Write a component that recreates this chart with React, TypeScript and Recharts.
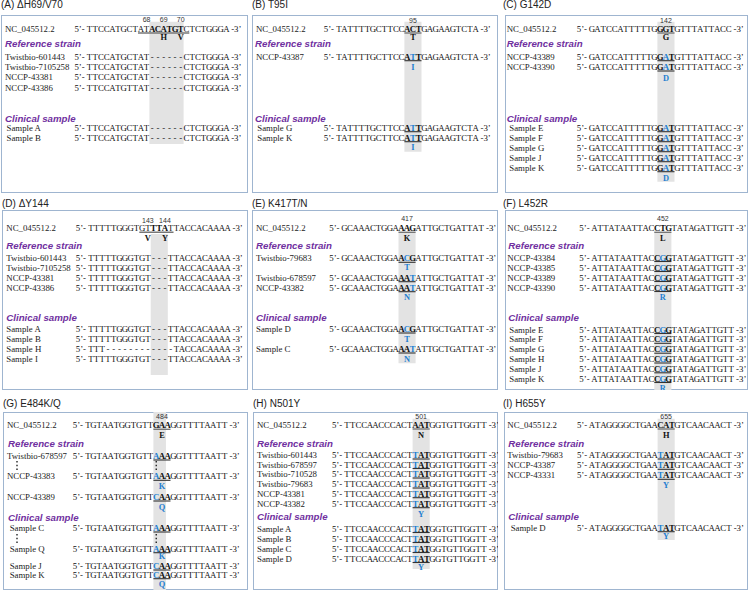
import React from 'react';
import { ReferenceArea, ReferenceLine, Scatter, ScatterChart, XAxis, YAxis } from 'recharts';

// one nucleotide column, px
const P = 5.7;
const REF_NAME = 'NC_045512.2';
const STRAIN_HEAD = 'Reference strain';
const SAMPLE_HEAD = 'Clinical sample';

// (A) ΔH69/V70
const aRef = 'TTCCATGCTATACATGTCTCTGGGA';
const aNums = ['68', '69', '70'];
const aRefAA = ['', 'H', 'V'];
const aStrains = ['Twistbio-601443', 'Twistbio-7105258', 'NCCP-43381', 'NCCP-43386'];
const aStrainSeqs = ['TTCCATGCTAT------CTCTGGGA', 'TTCCATGCTAT------CTCTGGGA', 'TTCCATGCTAT------CTCTGGGA', 'TTCCATGTTAT------CTCTGGGA'];
const aSamples = ['Sample A', 'Sample B'];
const aSampleSeqs = ['TTCCATGCTAT------CTCTGGGA', 'TTCCATGCTAT------CTCTGGGA'];
const aMutAA: string[] = [];

// (B) T95I
const bRef = 'TATTTTGCTTCCACTGAGAAGTCTA';
const bNums = ['95'];
const bRefAA = ['T'];
const bStrains = ['NCCP-43387'];
const bStrainSeqs = ['TATTTTGCTTCCATTGAGAAGTCTA'];
const bSamples = ['Sample G', 'Sample K'];
const bSampleSeqs = ['TATTTTGCTTCCATTGAGAAGTCTA', 'TATTTTGCTTCCATTGAGAAGTCTA'];
const bMutAA = ['I', 'I'];

// (C) G142D
const cRef = 'GATCCATTTTTGGGTGTTTATTACC';
const cNums = ['142'];
const cRefAA = ['G'];
const cStrains = ['NCCP-43389', 'NCCP-43390'];
const cStrainSeqs = ['GATCCATTTTTGGATGTTTATTACC', 'GATCCATTTTTGGATGTTTATTACC'];
const cSamples = ['Sample E', 'Sample F', 'Sample G', 'Sample J', 'Sample K'];
const cSampleSeqs = ['GATCCATTTTTGGATGTTTATTACC', 'GATCCATTTTTGGATGTTTATTACC', 'GATCCATTTTTGGATGTTTATTACC', 'GATCCATTTTTGGATGTTTATTACC', 'GATCCATTTTTGGATGTTTATTACC'];
const cMutAA = ['D', 'D'];

// (D) ΔY144
const dRef = 'TTTTTGGGTGTTTATTACCACAAAA';
const dNums = ['143', '144'];
const dRefAA = ['V', 'Y'];
const dStrains = ['Twistbio-601443', 'Twistbio-7105258', 'NCCP-43381', 'NCCP-43386'];
const dStrainSeqs = ['TTTTTGGGTGT---TTACCACAAAA', 'TTTTTGGGTGT---TTACCACAAAA', 'TTTTTGGGTGT---TTACCACAAAA', 'TTTTTGGGTGT---TTACCACAAAA'];
const dSamples = ['Sample A', 'Sample B', 'Sample H', 'Sample I'];
const dSampleSeqs = ['TTTTTGGGTGT---TTACCACAAAA', 'TTTTTGGGTGT---TTACCACAAAA', 'TTT------------TACCACAAAA', 'TTTTTGGGTGT---TTACCACAAAA'];
const dMutAA: string[] = [];

// (E) K417T/N
const eRef = 'GCAAACTGGAAAGATTGCTGATTAT';
const eNums = ['417'];
const eRefAA = ['K'];
const eStrains = ['Twistbio-79683', 'Twistbio-678597', 'NCCP-43382'];
const eStrainSeqs = ['GCAAACTGGAACGATTGCTGATTAT', 'GCAAACTGGAAATATTGCTGATTAT', 'GCAAACTGGAAATATTGCTGATTAT'];
const eSamples = ['Sample D', 'Sample C'];
const eSampleSeqs = ['GCAAACTGGAACGATTGCTGATTAT', 'GCAAACTGGAAATATTGCTGATTAT'];
const eMutAA = ['T', 'N', 'T', 'N'];

// (F) L452R
const fRef = 'ATTATAATTACCTGTATAGATTGTT';
const fNums = ['452'];
const fRefAA = ['L'];
const fStrains = ['NCCP-43384', 'NCCP-43385', 'NCCP-43389', 'NCCP-43390'];
const fStrainSeqs = ['ATTATAATTACCGGTATAGATTGTT', 'ATTATAATTACCGGTATAGATTGTT', 'ATTATAATTACCGGTATAGATTGTT', 'ATTATAATTACCGGTATAGATTGTT'];
const fSamples = ['Sample E', 'Sample F', 'Sample G', 'Sample H', 'Sample J', 'Sample K'];
const fSampleSeqs = ['ATTATAATTACCGGTATAGATTGTT', 'ATTATAATTACCGGTATAGATTGTT', 'ATTATAATTACCGGTATAGATTGTT', 'ATTATAATTACCGGTATAGATTGTT', 'ATTATAATTACCGGTATAGATTGTT', 'ATTATAATTACCGGTATAGATTGTT'];
const fMutAA = ['R', 'R'];

// (G) E484K/Q
const gRef = 'TGTAATGGTGTTGAAGGTTTTAATT';
const gNums = ['484'];
const gRefAA = ['E'];
const gStrains = ['Twistbio-678597', 'NCCP-43383', 'NCCP-43389'];
const gStrainSeqs = ['TGTAATGGTGTTAAAGGTTTTAATT', 'TGTAATGGTGTTAAAGGTTTTAATT', 'TGTAATGGTGTTCAAGGTTTTAATT'];
const gSamples = ['Sample C', 'Sample Q', 'Sample J', 'Sample K'];
const gSampleSeqs = ['TGTAATGGTGTTAAAGGTTTTAATT', 'TGTAATGGTGTTAAAGGTTTTAATT', 'TGTAATGGTGTTCAAGGTTTTAATT', 'TGTAATGGTGTTCAAGGTTTTAATT'];
const gMutAA = ['K', 'Q', 'K', 'Q'];

// (H) N501Y
const hRef = 'TTCCAACCCACTAATGGTGTTGGTT';
const hNums = ['501'];
const hRefAA = ['N'];
const hStrains = ['Twistbio-601443', 'Twistbio-678597', 'Twistbio-710528', 'Twistbio-79683', 'NCCP-43381', 'NCCP-43382'];
const hStrainSeqs = ['TTCCAACCCACTTATGGTGTTGGTT', 'TTCCAACCCACTTATGGTGTTGGTT', 'TTCCAACCCACTTATGGTGTTGGTT', 'TTCCAACCCACTTATGGTGTTGGTT', 'TTCCAACCCACTTATGGTGTTGGTT', 'TTCCAACCCACTTATGGTGTTGGTT'];
const hSamples = ['Sample A', 'Sample B', 'Sample C', 'Sample D'];
const hSampleSeqs = ['TTCCAACCCACTTATGGTGTTGGTT', 'TTCCAACCCACTTATGGTGTTGGTT', 'TTCCAACCCACTTATGGTGTTGGTT', 'TTCCAACCCACTTATGGTGTTGGTT'];
const hMutAA = ['Y', 'Y'];

// (I) H655Y
const iRef = 'ATAGGGGCTGAACATGTCAACAACT';
const iNums = ['655'];
const iRefAA = ['H'];
const iStrains = ['Twistbio-79683', 'NCCP-43387', 'NCCP-43331'];
const iStrainSeqs = ['ATAGGGGCTGAATATGTCAACAACT', 'ATAGGGGCTGAATATGTCAACAACT', 'ATAGGGGCTGAATATGTCAACAACT'];
const iSamples = ['Sample D'];
const iSampleSeqs = ['ATAGGGGCTGAATATGTCAACAACT'];
const iMutAA = ['Y', 'Y'];

type Range = [number, number];

type Layout = {
  titleX: number;
  titleTop: number;
  left: number;
  top: number;
  w: number;
  h: number;
  s: number;
  labelX: number;
  sampleX: number;
  headX: number;
  numY: number;
  refY: number;
  aaY: number;
  strainHeadY: number;
  sampleHeadY: number;
  centers: number[];
  codon: Range;
  refUnder: Range;
  refBold: Range;
  band: [number, number, number, number];
  strainY: number[];
  sampleY: number[];
  mutAAY: number[];
  dots?: { px: number; col: number; spans: Range[] };
};

type PanelData = {
  title: string;
  ref: string;
  nums: string[];
  refAA: string[];
  strains: string[];
  strainSeqs: string[];
  samples: string[];
  sampleSeqs: string[];
  mutAA: string[];
};

const panels: { d: PanelData; l: Layout }[] = [
  {
    d: { title: '(A) \u0394H69/V70', ref: aRef, nums: aNums, refAA: aRefAA, strains: aStrains, strainSeqs: aStrainSeqs, samples: aSamples, sampleSeqs: aSampleSeqs, mutAA: aMutAA },
    l: {
      titleX: 1, titleTop: 0, left: 1, top: 15, w: 247, h: 178, s: 85.7, labelX: 4, sampleX: 5.5, headX: 4,
      numY: 0.42, refY: 1.4, aaY: 2.2, strainHeadY: 2.87, sampleHeadY: 10.33,
      centers: [10, 13, 16], codon: [11, 16], refUnder: [9, 17], refBold: [11, 16],
      band: [10.5, 16.5, 0.67, 12.9],
      strainY: [4.17, 5.2, 6.23, 7.27], sampleY: [11.3, 12.3], mutAAY: [],
    },
  },
  {
    d: { title: '(B) T95I', ref: bRef, nums: bNums, refAA: bRefAA, strains: bStrains, strainSeqs: bStrainSeqs, samples: bSamples, sampleSeqs: bSampleSeqs, mutAA: bMutAA },
    l: {
      titleX: 252, titleTop: 0, left: 252, top: 15, w: 246, h: 178, s: 84, labelX: 4, sampleX: 5.3, headX: 3,
      numY: 0.5, refY: 1.4, aaY: 2.2, strainHeadY: 2.87, sampleHeadY: 10.33,
      centers: [13], codon: [12, 14], refUnder: [12, 14], refBold: [12, 14],
      band: [11.5, 14.5, 0.67, 13.67],
      strainY: [4.17], sampleY: [11.27, 12.27], mutAAY: [5.2, 13.2],
    },
  },
  {
    d: { title: '(C) G142D', ref: cRef, nums: cNums, refAA: cRefAA, strains: cStrains, strainSeqs: cStrainSeqs, samples: cSamples, sampleSeqs: cSampleSeqs, mutAA: cMutAA },
    l: {
      titleX: 503, titleTop: 0, left: 505, top: 15, w: 243, h: 178, s: 84, labelX: 1.7, sampleX: 4.3, headX: 1.7,
      numY: 0.5, refY: 1.4, aaY: 2.2, strainHeadY: 2.87, sampleHeadY: 10.33,
      centers: [13], codon: [12, 14], refUnder: [12, 14], refBold: [12, 14],
      band: [11.5, 14.5, 0.67, 16.67],
      strainY: [4.17, 5.2], sampleY: [11.27, 12.27, 13.27, 14.27, 15.27], mutAAY: [6.25, 16.25],
    },
  },
  {
    d: { title: '(D) \u0394Y144', ref: dRef, nums: dNums, refAA: dRefAA, strains: dStrains, strainSeqs: dStrainSeqs, samples: dSamples, sampleSeqs: dSampleSeqs, mutAA: dMutAA },
    l: {
      titleX: 2, titleTop: 199, left: 2, top: 210, w: 246, h: 180, s: 86, labelX: 4.3, sampleX: 4.3, headX: 4.3,
      numY: 1.0, refY: 1.83, aaY: 2.8, strainHeadY: 3.57, sampleHeadY: 10.77,
      centers: [10, 13], codon: [11, 13], refUnder: [9, 14], refBold: [11, 13],
      band: [10.5, 13.5, 2.4, 16.5],
      strainY: [4.83, 5.83, 6.83, 7.83], sampleY: [11.9, 12.9, 13.9, 14.9], mutAAY: [],
    },
  },
  {
    d: { title: '(E) K417T/N', ref: eRef, nums: eNums, refAA: eRefAA, strains: eStrains, strainSeqs: eStrainSeqs, samples: eSamples, sampleSeqs: eSampleSeqs, mutAA: eMutAA },
    l: {
      titleX: 252, titleTop: 199, left: 252, top: 210, w: 246, h: 180, s: 89.5, labelX: 4, sampleX: 4, headX: 4,
      numY: 0.83, refY: 1.83, aaY: 2.8, strainHeadY: 3.57, sampleHeadY: 10.77,
      centers: [11], codon: [10, 12], refUnder: [10, 12], refBold: [10, 12],
      band: [9.5, 12.5, 2.17, 15.33],
      strainY: [4.83, 6.77, 7.77], sampleY: [11.9, 13.9], mutAAY: [5.65, 8.7, 12.85, 14.85],
    },
  },
  {
    d: { title: '(F) L452R', ref: fRef, nums: fNums, refAA: fRefAA, strains: fStrains, strainSeqs: fStrainSeqs, samples: fSamples, sampleSeqs: fSampleSeqs, mutAA: fMutAA },
    l: {
      titleX: 503, titleTop: 199, left: 505, top: 210, w: 243, h: 180, s: 86.6, labelX: 2.3, sampleX: 4.3, headX: 3.3,
      numY: 0.83, refY: 1.83, aaY: 2.8, strainHeadY: 3.57, sampleHeadY: 10.77,
      centers: [12], codon: [11, 13], refUnder: [11, 13], refBold: [11, 13],
      band: [10.5, 13.5, 2.17, 18.0],
      strainY: [4.75, 5.75, 6.75, 7.75], sampleY: [11.95, 12.93, 13.92, 14.9, 15.88, 16.85], mutAAY: [8.7, 17.8],
    },
  },
  {
    d: { title: '(G) E484K/Q', ref: gRef, nums: gNums, refAA: gRefAA, strains: gStrains, strainSeqs: gStrainSeqs, samples: gSamples, sampleSeqs: gSampleSeqs, mutAA: gMutAA },
    l: {
      titleX: 3, titleTop: 398.5, left: 3, top: 412, w: 245, h: 178, s: 82, labelX: 4, sampleX: 6.7, headX: 5,
      numY: 0.4, refY: 1.33, aaY: 2.33, strainHeadY: 3.17, sampleHeadY: 10.5,
      centers: [13], codon: [12, 14], refUnder: [12, 14], refBold: [12, 14],
      band: [11.5, 13.7, 0, 17.8],
      strainY: [4.4, 6.43, 8.5], sampleY: [11.6, 13.67, 15.4, 16.27], mutAAY: [7.42, 9.52, 14.42, 17.2],
      dots: { px: 14, col: 12, spans: [[4.9, 5.9], [12.2, 13.2]] },
    },
  },
  {
    d: { title: '(H) N501Y', ref: hRef, nums: hNums, refAA: hRefAA, strains: hStrains, strainSeqs: hStrainSeqs, samples: hSamples, sampleSeqs: hSampleSeqs, mutAA: hMutAA },
    l: {
      titleX: 253, titleTop: 398.5, left: 253, top: 412, w: 245, h: 178, s: 91.2, labelX: 4, sampleX: 4, headX: 4,
      numY: 0.43, refY: 1.3, aaY: 2.27, strainHeadY: 3.1, sampleHeadY: 10.43,
      centers: [13], codon: [12, 14], refUnder: [12, 14], refBold: [12, 14],
      band: [11.5, 14.5, 0.67, 15.7],
      strainY: [4.3, 5.25, 6.2, 7.2, 8.17, 9.17], sampleY: [11.65, 12.65, 13.65, 14.65], mutAAY: [10.18, 15.5],
    },
  },
  {
    d: { title: '(I) H655Y', ref: iRef, nums: iNums, refAA: iRefAA, strains: iStrains, strainSeqs: iStrainSeqs, samples: iSamples, sampleSeqs: iSampleSeqs, mutAA: iMutAA },
    l: {
      titleX: 503, titleTop: 398.5, left: 504, top: 412, w: 244, h: 178, s: 85.2, labelX: 3.3, sampleX: 6.7, headX: 4.3,
      numY: 0.43, refY: 1.3, aaY: 2.27, strainHeadY: 3.1, sampleHeadY: 10.43,
      centers: [13], codon: [12, 14], refUnder: [12, 14], refBold: [12, 14],
      band: [11.5, 14.5, 0.67, 12.8],
      strainY: [4.3, 5.33, 6.33], sampleY: [11.57], mutAAY: [7.3, 12.4],
    },
  },
];

const SERIF = "'Liberation Serif', 'Times New Roman', serif";
const SANS = "'Liberation Sans', Arial, sans-serif";
const BLUE = '#1f7fd1';

const STYLES: Record<string, { font: string; size: number; weight?: string; italic?: boolean; fill: string; anchor: 'start' | 'middle' | 'end'; dy: number }> = {
  seq: { font: SERIF, size: 8.8, fill: '#111', anchor: 'middle', dy: 3 },
  seqB: { font: SERIF, size: 8.8, weight: 'bold', fill: '#111', anchor: 'middle', dy: 3 },
  seqBlue: { font: SERIF, size: 8.8, weight: 'bold', fill: BLUE, anchor: 'middle', dy: 3 },
  pre: { font: SERIF, size: 8.8, fill: '#111', anchor: 'end', dy: 3 },
  suf: { font: SERIF, size: 8.8, fill: '#111', anchor: 'start', dy: 3 },
  label: { font: SERIF, size: 8.8, fill: '#222', anchor: 'start', dy: 3 },
  num: { font: SANS, size: 7, fill: '#333', anchor: 'middle', dy: 2.5 },
  aa: { font: SERIF, size: 8.4, weight: 'bold', fill: '#111', anchor: 'middle', dy: 3.1 },
  aaBlue: { font: SERIF, size: 8.4, weight: 'bold', fill: BLUE, anchor: 'middle', dy: 3.1 },
  head: { font: SANS, size: 9.7, weight: 'bold', italic: true, fill: '#7030a0', anchor: 'start', dy: 3.5 },
};

type Pt = { x: number; y: number; t: string; k: string };
type Seg = { x1: number; x2: number; y: number; ref: boolean };

const inRange = (i: number, r: Range) => i >= r[0] && i <= r[1];

// underline sits just under the baseline
const UNDER = 0.4;

function buildPanel(d: PanelData, l: Layout) {
  const colAt = (px: number) => (px - l.s) / P - 0.5;
  const pts: Pt[] = [];
  const segs: Seg[] = [];
  const n = d.ref.length;

  const addFrame = (y: number) => {
    pts.push({ x: -0.85, y, t: '5\u2019-', k: 'pre' });
    pts.push({ x: n - 1 + 0.85, y, t: '-3\u2019', k: 'suf' });
  };

  // reference row
  pts.push({ x: colAt(l.labelX), y: l.refY, t: REF_NAME, k: 'label' });
  addFrame(l.refY);
  d.ref.split('').forEach((ch, i) => {
    pts.push({ x: i, y: l.refY, t: ch, k: inRange(i, l.refBold) ? 'seqB' : 'seq' });
  });
  segs.push({ x1: l.refUnder[0] - 0.5, x2: l.refUnder[1] + 0.5, y: l.refY + UNDER, ref: true });
  d.nums.forEach((t, i) => pts.push({ x: l.centers[i], y: l.numY, t, k: 'num' }));
  d.refAA.forEach((t, i) => t && pts.push({ x: l.centers[i], y: l.aaY, t, k: 'aa' }));

  pts.push({ x: colAt(l.headX), y: l.strainHeadY, t: STRAIN_HEAD, k: 'head' });
  pts.push({ x: colAt(l.headX), y: l.sampleHeadY, t: SAMPLE_HEAD, k: 'head' });

  const addRow = (label: string, seq: string, y: number, lx: number) => {
    pts.push({ x: colAt(lx), y, t: label, k: 'label' });
    addFrame(y);
    const codonSeq = seq.slice(l.codon[0], l.codon[1] + 1);
    const mutant = !codonSeq.includes('-');
    seq.split('').forEach((ch, i) => {
      if (ch === ' ') return;
      let k = 'seq';
      if (mutant && inRange(i, l.codon)) k = ch !== d.ref[i] ? 'seqBlue' : 'seqB';
      pts.push({ x: i, y, t: ch, k });
    });
    if (mutant) segs.push({ x1: l.codon[0] - 0.5, x2: l.codon[1] + 0.5, y: y + UNDER, ref: false });
  };
  d.strains.forEach((name, i) => addRow(name, d.strainSeqs[i], l.strainY[i], l.labelX));
  d.samples.forEach((name, i) => addRow(name, d.sampleSeqs[i], l.sampleY[i], l.sampleX));

  const mid = (l.codon[0] + l.codon[1]) / 2;
  d.mutAA.forEach((t, i) => pts.push({ x: mid, y: l.mutAAY[i], t, k: 'aaBlue' }));

  return { pts, segs, colAt };
}

const Glyph = (props: any) => {
  const { cx, cy, payload } = props;
  const st = STYLES[payload.k];
  return (
    <text
      x={cx}
      y={cy + st.dy}
      fontFamily={st.font}
      fontSize={st.size}
      fontWeight={st.weight || 'normal'}
      fontStyle={st.italic ? 'italic' : 'normal'}
      fill={st.fill}
      textAnchor={st.anchor}
    >
      {payload.t}
    </text>
  );
};

const Panel = ({ d, l }: { d: PanelData; l: Layout }) => {
  const { pts, segs, colAt } = buildPanel(d, l);
  const d0 = -(l.s / P + 0.5);
  const d1 = d0 + l.w / P;

  return (
    <>
      <div
        style={{
          position: 'absolute',
          left: l.titleX,
          top: l.titleTop,
          fontFamily: SANS,
          fontSize: 10,
          lineHeight: '10px',
          color: '#222',
          whiteSpace: 'nowrap',
        }}
      >
        {d.title}
      </div>
      <div
        style={{
          position: 'absolute',
          left: l.left,
          top: l.top,
          width: l.w,
          height: l.h,
          border: '1px solid #9fb5d0',
          boxSizing: 'border-box',
        }}
      />
      <div style={{ position: 'absolute', left: l.left, top: l.top }}>
        <ScatterChart width={l.w} height={l.h} margin={{ top: 0, right: 0, bottom: 0, left: 0 }}>
          <XAxis type='number' dataKey='x' domain={[d0, d1]} allowDataOverflow hide />
          <YAxis type='number' dataKey='y' domain={[0, l.h / 10]} allowDataOverflow reversed hide />
          <ReferenceArea x1={l.band[0]} x2={l.band[1]} y1={l.band[2]} y2={l.band[3]} fill='#e3e3e3' fillOpacity={1} stroke='none' />
          {segs.map((s, i) => (
            <ReferenceLine
              key={`u${i}`}
              segment={[{ x: s.x1, y: s.y }, { x: s.x2, y: s.y }]}
              stroke={s.ref ? '#777' : '#333'}
              strokeWidth={s.ref ? 1.4 : 1.1}
            />
          ))}
          {l.dots &&
            l.dots.spans.map((sp, i) => (
              <React.Fragment key={`d${i}`}>
                <ReferenceLine segment={[{ x: colAt(l.dots!.px), y: sp[0] }, { x: colAt(l.dots!.px), y: sp[1] }]} stroke='#222' strokeWidth={1.4} strokeDasharray='1.4 2.4' />
                <ReferenceLine segment={[{ x: l.dots!.col, y: sp[0] }, { x: l.dots!.col, y: sp[1] }]} stroke='#222' strokeWidth={1.4} strokeDasharray='1.4 2.4' />
              </React.Fragment>
            ))}
          <Scatter data={pts} shape={Glyph} isAnimationActive={false} />
        </ScatterChart>
      </div>
    </>
  );
};

export default function App() {
  return (
    <div style={{ position: 'absolute', left: 0, top: 0, width: 750, height: 591, background: '#fff' }}>
      {panels.map((p, i) => (
        <Panel key={i} d={p.d} l={p.l} />
      ))}
    </div>
  );
}
